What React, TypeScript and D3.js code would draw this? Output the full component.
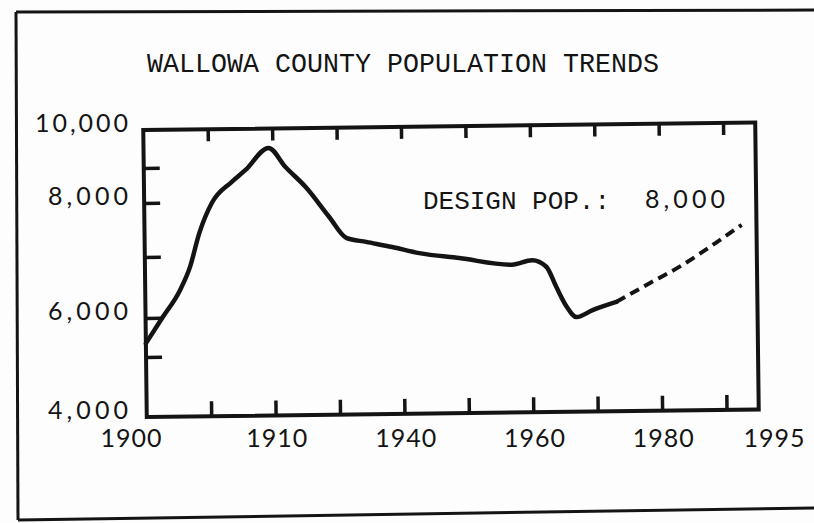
import React, { useEffect, useRef } from 'react';
import * as d3 from 'd3';

// population
const solidYears = [1900, 1902.6, 1905.4, 1907, 1908.5, 1910.5, 1913.6, 1915.8, 1919.4, 1922, 1925.1, 1928.7, 1931.3, 1934.4, 1938.4, 1942.6, 1948.8, 1957, 1960.1, 1962.3, 1963.8, 1965.4, 1966.9, 1969.4, 1973.1];
const solidPop = [5350, 6000, 6450, 6830, 7430, 7985, 8570, 8910, 9490, 8980, 8400, 7700, 7310, 7230, 7130, 7010, 6920, 6800, 6870, 6760, 6430, 6100, 5890, 6040, 6170];
const projYears = [1973.1, 1978.3, 1983.4, 1988.6, 1992.7];
const projPop = [6170, 6470, 6760, 7130, 7460];

const xTickYears = [1910, 1920, 1930, 1940, 1950, 1960, 1970, 1980, 1990];
const xLabelYears = [1900, 1920, 1940, 1960, 1980, 1995];
const xLabels = ['1900', '1910', '1940', '1960', '1980', '1995'];
const yTickValues = [5000, 6000, 7000, 8000, 9000];
const yLabelValues = [10000, 8000, 6000, 4000];
const yLabels = ['10,000', '8,000', '6,000', '4,000'];

const title = 'WALLOWA COUNTY POPULATION TRENDS';
const note = 'DESIGN POP.:';
const noteValue = '8,000';

const W = 814;
const H = 523;
const ink = '#141414';
const mono = '"Liberation Mono", "DejaVu Sans Mono", monospace';
const sans = 'Lato, "Open Sans", sans-serif';

const App = () => {
  const svgRef = useRef<SVGSVGElement>(null);

  useEffect(() => {
    const svg = d3.select(svgRef.current);
    svg.selectAll('*').remove();

    const x = d3.scaleLinear().domain([1900, 1995]).range([145, 757]);
    // the hand-ruled value axis is uneven, so the scale follows its ticks
    const y = d3.scaleLinear()
      .domain([4000, 5000, 6000, 7000, 8000, 9000, 10000])
      .range([413.3, 353.3, 314.3, 253.3, 199.3, 164.3, 126.3]);

    svg.append('rect').attr('width', W).attr('height', H).attr('fill', '#fdfdfd');

    // outer frame
    const frame = svg.append('g').attr('stroke', ink).attr('stroke-width', 3).attr('fill', 'none');
    frame.append('path').attr('d', 'M16,12 L814,10');
    frame.append('path').attr('d', 'M16,12 L18,520');
    frame.append('path').attr('d', 'M18,520 L814,508');

    // title
    svg.append('text')
      .attr('x', 147).attr('y', 65)
      .attr('dominant-baseline', 'middle')
      .attr('font-family', mono).attr('font-size', 27)
      .attr('textLength', 512).attr('lengthAdjust', 'spacingAndGlyphs')
      .attr('fill', ink)
      .text(title);

    // plot area, slightly tilted like the drawing
    const g = svg.append('g').attr('transform', 'rotate(-0.7, 450, 270)');
    const [x0, x1] = x.range();
    const y0 = y(4000);
    const y1 = y(10000);

    g.append('rect')
      .attr('x', x0).attr('y', y1)
      .attr('width', x1 - x0).attr('height', y0 - y1)
      .attr('fill', 'none').attr('stroke', ink).attr('stroke-width', 4);

    const bottom = g.append('g').attr('transform', `translate(0,${y0})`)
      .call(d3.axisBottom(x).tickValues(xTickYears).tickSize(-15).tickFormat(() => ''));
    const top = g.append('g').attr('transform', `translate(0,${y1})`)
      .call(d3.axisTop(x).tickValues(xTickYears).tickSize(-12).tickFormat(() => ''));
    const left = g.append('g').attr('transform', `translate(${x0},0)`)
      .call(d3.axisLeft(y).tickValues(yTickValues).tickSize(-16).tickFormat(() => ''));
    [bottom, top, left].forEach(ax => {
      ax.select('.domain').remove();
      ax.selectAll('line').attr('stroke', ink).attr('stroke-width', 3.5);
    });

    const line = d3.line<[number, number]>()
      .x(d => x(d[0]))
      .y(d => y(d[1]))
      .curve(d3.curveMonotoneX);

    g.append('path')
      .datum(d3.zip(solidYears, solidPop) as [number, number][])
      .attr('fill', 'none').attr('stroke', ink).attr('stroke-width', 4.5)
      .attr('stroke-linejoin', 'round').attr('stroke-linecap', 'round')
      .attr('d', line);

    g.append('path')
      .datum(d3.zip(projYears, projPop) as [number, number][])
      .attr('fill', 'none').attr('stroke', ink).attr('stroke-width', 4)
      .attr('stroke-dasharray', '10,6')
      .attr('d', line);

    // axis labels (typed level, not tilted)
    svg.append('g').selectAll('text')
      .data(yLabelValues)
      .join('text')
      .attr('x', 128).attr('y', d => y(d) - 1)
      .attr('text-anchor', 'end').attr('dominant-baseline', 'middle')
      .attr('font-family', sans).attr('font-size', 25).attr('fill', ink)
      .attr('textLength', (d, i) => (i === 0 ? 93 : 80)).attr('lengthAdjust', 'spacing')
      .text((d, i) => yLabels[i]);

    svg.append('g').selectAll('text')
      .data(xLabelYears)
      .join('text')
      .attr('x', (d, i) => x(d) + (i === 0 ? -14 : i === xLabelYears.length - 1 ? 17 : 3))
      .attr('y', 441)
      .attr('text-anchor', 'middle').attr('dominant-baseline', 'middle')
      .attr('font-family', sans).attr('font-size', 25).attr('fill', ink)
      .attr('textLength', 61).attr('lengthAdjust', 'spacing')
      .text((d, i) => xLabels[i]);

    svg.append('text')
      .attr('x', 423).attr('y', 202)
      .attr('dominant-baseline', 'middle')
      .attr('font-family', mono).attr('font-size', 26)
      .attr('textLength', 187).attr('lengthAdjust', 'spacingAndGlyphs')
      .attr('fill', ink)
      .text(note);

    svg.append('text')
      .attr('x', 645).attr('y', 202)
      .attr('dominant-baseline', 'middle')
      .attr('font-family', sans).attr('font-size', 25)
      .attr('textLength', 80).attr('lengthAdjust', 'spacing')
      .attr('fill', ink)
      .text(noteValue);
  }, []);

  return (
    <svg ref={svgRef} width={W} height={H}
      style={{ position: 'absolute', left: 0, top: 0, display: 'block' }} />
  );
};

export default App;
